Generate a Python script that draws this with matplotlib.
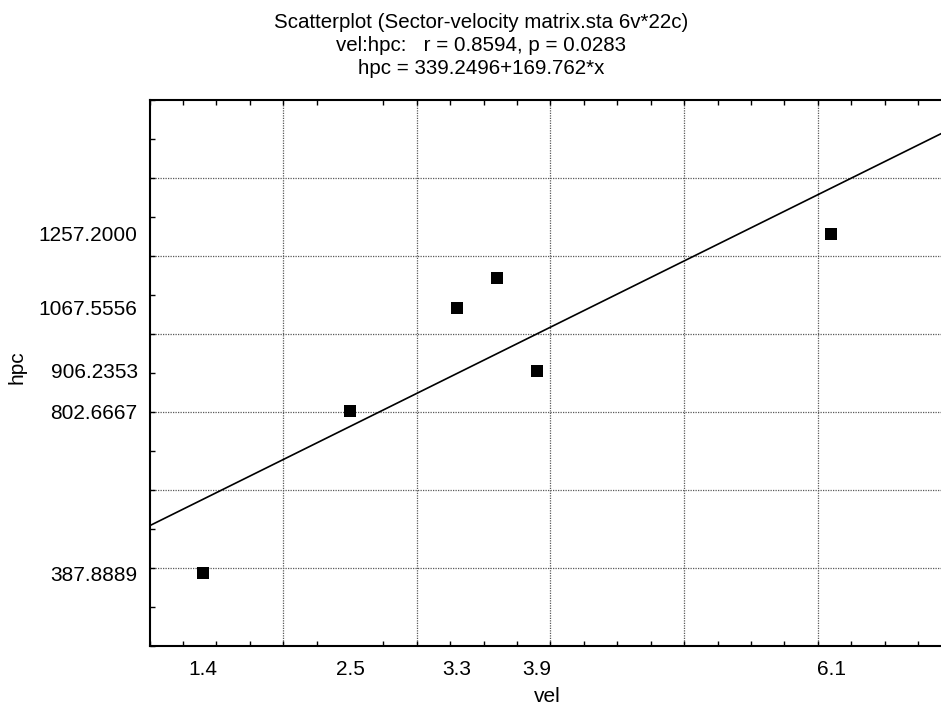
import numpy as np
import matplotlib
matplotlib.use("Agg")
import matplotlib.pyplot as plt

plt.rcParams['font.family'] = ['Liberation Sans', 'DejaVu Sans']

# data
vel = [1.4, 2.5, 3.3, 3.6, 3.9, 6.1]
hpc = [387.8889, 802.6667, 1067.5556, 1145.0, 906.2353, 1257.2000]
intercept = 339.2496
slope = 169.762

x_ticklabels = [1.4, 2.5, 3.3, 3.9, 6.1]
y_ticklabels = [387.8889, 802.6667, 906.2353, 1067.5556, 1257.2000]
x_grid = [2, 3, 4, 5, 6]
y_grid = [400, 600, 800, 1000, 1200, 1400]
x_lim = (1, 7)
y_lim = (200, 1600)

title_lines = ["Scatterplot (Sector-velocity matrix.sta 6v*22c)",
               "vel:hpc:   r = 0.8594, p = 0.0283",
               "hpc = 339.2496+169.762*x"]

W, H = 941, 711
fig = plt.figure(figsize=(W / 100, H / 100), dpi=100)
left, right, top, bottom = 149.5, 951.4, 100.3, 646.3
ax = fig.add_axes([left / W, (H - bottom) / H, (right - left) / W, (bottom - top) / H])

ax.set_xlim(*x_lim)
ax.set_ylim(*y_lim)

for g in x_grid:
    ax.axvline(g, color='0.35', lw=0.9, ls=(0, (1, 1)), zorder=1)
for g in y_grid:
    ax.axhline(g, color='0.35', lw=0.9, ls=(0, (1, 1)), zorder=1)

xf = np.array(x_lim, dtype=float)
ax.plot(xf, intercept + slope * xf, color='black', lw=1.2, zorder=2)
ax.scatter(vel, hpc, marker='s', s=64, color='black', zorder=3, linewidths=0)

ax.set_xticks(x_ticklabels)
ax.set_xticklabels([f"{v:.1f}" for v in x_ticklabels])
ax.set_yticks(y_ticklabels)
ax.set_yticklabels([f"{v:.4f}" for v in y_ticklabels])
ax.set_xticks(np.arange(1, 7.001, 0.25), minor=True)
ax.set_yticks(np.arange(200, 1600.1, 100), minor=True)
ax.tick_params(which='major', length=0, labelsize=15, colors='black')
ax.tick_params(axis='y', which='major', pad=8.5)
ax.tick_params(axis='x', which='major', pad=10)
ax.tick_params(which='minor', direction='in', length=3.8, width=1.0,
               top=True, right=True, bottom=True, left=True, labelsize=0)

for s in ax.spines.values():
    s.set_linewidth(1.5)
    s.set_color('black')

fig.text(481 / W, 1 - 28 / H, title_lines[0], ha='center', va='baseline', fontsize=14.8)
fig.text(481 / W, 1 - 51 / H, title_lines[1], ha='center', va='baseline', fontsize=14.8)
fig.text(481 / W, 1 - 74 / H, title_lines[2], ha='center', va='baseline', fontsize=14.8)
fig.text(547 / W, 1 - 697 / H, "vel", ha='center', va='center', fontsize=15)
fig.text(17 / W, 1 - 367 / H, "hpc", ha='center', va='center', fontsize=15, rotation=90)

fig.savefig("out.png", dpi=100)
